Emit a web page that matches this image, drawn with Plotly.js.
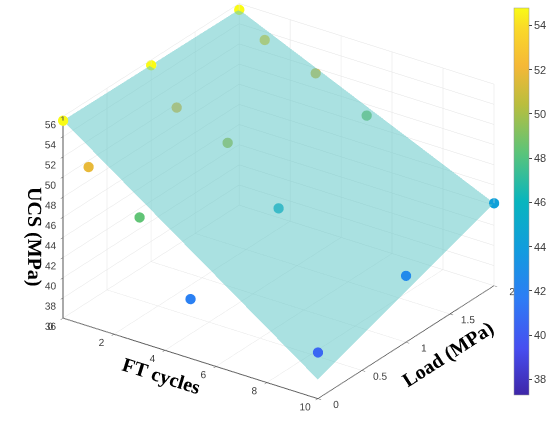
<!DOCTYPE html>
<html>
<head>
<meta charset="utf-8">
<script src="https://cdn.plot.ly/plotly-3.0.1.min.js"></script>
<style>html,body{margin:0;padding:0;background:#fff;}#chart{width:550px;height:423px;}</style>
</head>
<body>
<div id="chart"></div>
<script>
// Measured points
const ftCycles = [0, 1, 3, 5, 10, 0, 1, 3, 5, 10, 0, 1, 3, 5, 10];
const loadMPa  = [0, 0, 0, 0, 0, 1, 1, 1, 1, 1, 2, 2, 2, 2, 2];
const ucsMPa   = [55.6, 51.8, 48.4, 41.9, 40.6,
                  55.5, 52.1, 50.2, 45.3, 42.6,
                  55.4, 53.2, 51.5, 48.9, 44.2];

// Fitted surface
const surfFT   = [0, 5, 10];
const surfLoad = [0, 1, 2];
const surfUCS  = [ // rows = load, cols = FT
  [55.6, 46.75, 37.9],
  [55.5, 48.28, 41.05],
  [55.4, 49.80, 44.2]
];

const parula = [
  [0.000, 'rgb(62,38,168)'],  [0.120, 'rgb(71,78,240)'],
  [0.250, 'rgb(45,125,245)'], [0.375, 'rgb(18,156,222)'],
  [0.500, 'rgb(8,181,190)'],  [0.625, 'rgb(90,196,122)'],
  [0.750, 'rgb(185,190,62)'], [0.850, 'rgb(245,184,55)'],
  [0.950, 'rgb(250,218,40)'], [1.000, 'rgb(249,251,21)']
];
const cbTicks = [38, 40, 42, 44, 46, 48, 50, 52, 54];

const surface = {
  type: 'surface',
  x: surfFT, y: surfLoad, z: surfUCS,
  colorscale: [[0, 'rgb(100,200,200)'], [1, 'rgb(100,200,200)']],
  showscale: false,
  opacity: 0.55,
  lighting: {ambient: 1, diffuse: 0, specular: 0, roughness: 1, fresnel: 0},
  hoverinfo: 'skip'
};

const points = {
  type: 'scatter3d', mode: 'markers',
  x: ftCycles, y: loadMPa, z: ucsMPa,
  marker: {
    size: 6, color: ucsMPa, colorscale: parula, cmin: 37.3, cmax: 54.8,
    line: {width: 0}, opacity: 1,
    colorbar: {
      xref: 'container', yref: 'container',
      x: 0.9345, xanchor: 'left', xpad: 0,
      y: 0.524, yanchor: 'middle', ypad: 0,
      len: 387, lenmode: 'pixels', thickness: 15,
      tickvals: cbTicks, ticks: 'outside', ticklen: 3, tickcolor: '#444',
      tickfont: {family: 'Arial, Liberation Sans', size: 11, color: '#404040'},
      outlinewidth: 0.5, outlinecolor: '#999'
    }
  }
};

const titleFont = {family: 'Liberation Serif, Times New Roman', size: 20, color: '#000'};
const axisCommon = {
  showbackground: false, gridcolor: '#e3e3e3', gridwidth: 1,
  showline: true, linecolor: '#555', linewidth: 2,
  zeroline: false, ticks: 'outside', tickcolor: '#555', ticklen: 4,
  tickangle: 0,
  tickfont: {family: 'Arial, Liberation Sans', size: 11, color: '#404040'},
  showspikes: false
};

const zoom = 1.55 * 0.95;
const layout = {
  width: 550, height: 423,
  margin: {l: 0, r: 0, t: 0, b: 0, autoexpand: false},
  paper_bgcolor: '#fff',
  showlegend: false,
  scene: {
    domain: {x: [0.012, 1], y: [0, 1]},
    aspectmode: 'manual',
    aspectratio: {x: 1 * zoom, y: 0.984 * zoom, z: 0.725 * zoom},
    camera: {
      eye: {x: 0.519 * 2, y: -0.739 * 2, z: 0.428 * 2},
      up: {x: 0, y: 0, z: 1},
      center: {x: 0, y: 0, z: -0.055},
      projection: {type: 'orthographic'}
    },
    xaxis: Object.assign({}, axisCommon, {
      range: [0, 10], tickvals: [0, 2, 4, 6, 8, 10],
      title: {text: '<b>FT cycles</b>', font: titleFont}
    }),
    yaxis: Object.assign({}, axisCommon, {
      range: [0, 2], tickvals: [0, 0.5, 1, 1.5, 2],
      title: {text: '<b>Load (MPa)</b>', font: titleFont}
    }),
    zaxis: Object.assign({}, axisCommon, {
      range: [36, 56], tickvals: [36, 38, 40, 42, 44, 46, 48, 50, 52, 54, 56],
      title: {text: '<b>UCS (MPa)</b>', font: titleFont}
    })
  }
};

Plotly.newPlot('chart', [surface, points], layout, {displayModeBar: false});
</script>
</body>
</html>
